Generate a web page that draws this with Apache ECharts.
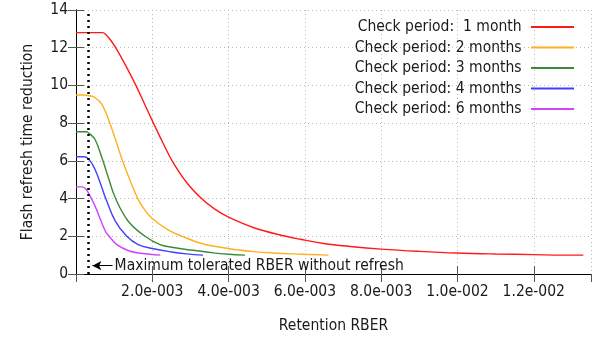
<!DOCTYPE html>
<html><head><meta charset="utf-8">
<script src="https://cdn.jsdelivr.net/npm/echarts@6/dist/echarts.min.js"></script>
<style>html,body{margin:0;padding:0;background:#fff}#c{width:603px;height:339px}</style>
</head><body><div id="c"></div>
<script>
const seriesNames = ['Check period:  1 month','Check period: 2 months','Check period: 3 months','Check period: 4 months','Check period: 6 months'];
const colors = ['#ff1a1a','#ffb020','#3a8a3a','#4040ff','#cc44ff'];
const red1m = [[0,12.8],[0.0007,12.8],[0.00078,12.7],[0.0009,12.42],[0.00104,12.0],[0.00129,11.1],[0.00157,10.0],[0.0018,9.0],[0.00203,8.0],[0.00228,6.95],[0.00252,6.0],[0.0029,4.85],[0.00329,4.0],[0.00363,3.45],[0.004,3.01],[0.00468,2.44],[0.0055,2.0],[0.00588,1.84],[0.00649,1.62],[0.00719,1.46],[0.008,1.32],[0.009,1.2],[0.01,1.11],[0.011,1.06],[0.012,1.03],[0.0127,1.0],[0.0133,1.0]];
const orange2m = [[0,9.49],[0.00022,9.49],[0.00035,9.45],[0.00048,9.38],[0.00068,9.0],[0.0009,7.93],[0.00122,6.0],[0.00142,4.95],[0.00162,4.0],[0.0018,3.4],[0.002,2.94],[0.0024,2.35],[0.00278,2.0],[0.00329,1.62],[0.00403,1.34],[0.0046,1.2],[0.00517,1.11],[0.0059,1.05],[0.00662,1.0]];
const green3m = [[0,7.54],[0.00027,7.54],[0.00035,7.45],[0.0005,7.13],[0.00068,6.16],[0.00085,5.1],[0.00103,4.04],[0.00137,2.8],[0.00181,2.0],[0.0022,1.56],[0.0026,1.39],[0.003,1.27],[0.0036,1.12],[0.004,1.05],[0.00443,1.0]];
const blue4m = [[0,6.22],[0.00022,6.22],[0.00035,6.05],[0.0005,5.54],[0.00068,4.57],[0.00078,4.0],[0.00103,2.8],[0.00133,2.0],[0.00163,1.56],[0.002,1.35],[0.0025,1.17],[0.0029,1.07],[0.00333,1.0]];
const violet6m = [[0,4.62],[0.00017,4.62],[0.00028,4.45],[0.00035,4.2],[0.0005,3.6],[0.00077,2.27],[0.00087,2.0],[0.00107,1.56],[0.0014,1.22],[0.0017,1.1],[0.00221,1.0]];
const seriesData = [red1m, orange2m, green3m, blue4m, violet6m];
const maxTolRBER = 0.00033;
const arrowFrom = [0.00096, 0.44];
const arrowTo = [0.00043, 0.44];
const annotation = 'Maximum tolerated RBER without refresh';
const xName = 'Retention RBER';
const yName = 'Flash refresh time reduction';

const FONT = "'DejaVu Sans Condensed', 'Liberation Sans', sans-serif";
const FS = 15.5;
function fmtExp(v){
  if (v === 0) return '';
  const e = Math.floor(Math.log10(v) + 1e-9);
  const m = v / Math.pow(10, e);
  return m.toFixed(1) + 'e' + (e < 0 ? '-' : '+') + String(Math.abs(e)).padStart(3, '0');
}
const chart = echarts.init(document.getElementById('c'), null, {renderer: 'canvas'});
const series = seriesNames.map((n, i) => ({
  name: n, type: 'line', data: seriesData[i], showSymbol: false, symbol: 'none',
  smooth: 0.4,
  lineStyle: {color: colors[i], width: 1.4}, itemStyle: {color: colors[i]},
  z: 3
}));
series[0].markLine = {
  silent: true, animation: false,
  data: [
    [{xAxis: maxTolRBER, yAxis: 0, symbol: 'none'}, {xAxis: maxTolRBER, yAxis: 14, symbol: 'none',
      lineStyle: {color: '#000', type: [2, 4], width: 2.5}, label: {show: false}}],
    [{coord: arrowFrom, symbol: 'none'}, {coord: arrowTo, symbol: 'arrow', symbolSize: [7, 9],
      lineStyle: {color: '#000', type: 'solid', width: 1},
      label: {show: true, position: 'start', formatter: annotation, distance: 2, color: '#1a1a1a', fontFamily: FONT, fontSize: FS}}]
  ],
  lineStyle: {color: '#000', type: [2, 4], width: 2.5},
  label: {show: false}
};
chart.setOption({
  animation: false,
  textStyle: {fontFamily: FONT},
  grid: {left: 76, right: 12, top: 10, bottom: 64, containLabel: false},
  legend: {
    orient: 'vertical', right: 24, top: 14, align: 'right',
    icon: 'rect', itemWidth: 43, itemHeight: 2, itemGap: 4.5,
    formatter: n => n + ' ',
    textStyle: {fontFamily: FONT, fontSize: FS, color: '#1a1a1a'},
    data: seriesNames.map((n, i) => ({name: n, itemStyle: {color: colors[i]}}))
  },
  xAxis: [{
    type: 'value', min: 0, max: 0.0135, interval: 0.002,
    name: xName, nameLocation: 'middle', nameGap: 44,
    nameTextStyle: {fontFamily: FONT, fontSize: FS, color: '#1a1a1a'},
    axisLine: {show: true, lineStyle: {color: '#000', width: 1}},
    axisTick: {show: true, inside: true, length: 8, lineStyle: {color: '#555'}},
    axisLabel: {formatter: fmtExp, margin: 10, fontFamily: FONT, fontSize: FS, color: '#1a1a1a', showMinLabel: false, showMaxLabel: false},
    splitLine: {show: true, lineStyle: {color: '#b8b8b8', type: [1, 3], width: 1}}
  }, {
    type: 'value', position: 'top', min: 0, max: 0.0135, interval: 0.002,
    axisLine: {show: true, lineStyle: {color: '#000', width: 1}},
    axisTick: {show: true, inside: true, length: 8, lineStyle: {color: '#555'}},
    axisLabel: {show: false}, splitLine: {show: false}
  }],
  yAxis: [{
    type: 'value', min: 0, max: 14, interval: 2,
    name: yName, nameLocation: 'middle', nameGap: 40,
    nameTextStyle: {fontFamily: FONT, fontSize: FS, color: '#1a1a1a'},
    axisLine: {show: true, lineStyle: {color: '#000', width: 1}},
    axisTick: {show: true, inside: true, length: 8, lineStyle: {color: '#555'}},
    axisLabel: {margin: 8, fontFamily: FONT, fontSize: FS, color: '#1a1a1a'},
    splitLine: {show: true, lineStyle: {color: '#b8b8b8', type: [1, 3], width: 1}}
  }, {
    type: 'value', position: 'right', min: 0, max: 14, interval: 2,
    axisLine: {show: true, lineStyle: {color: '#000', width: 1}},
    axisTick: {show: true, inside: true, length: 8, lineStyle: {color: '#555'}},
    axisLabel: {show: false}, splitLine: {show: false}
  }],
  series: series
});
</script></body></html>
